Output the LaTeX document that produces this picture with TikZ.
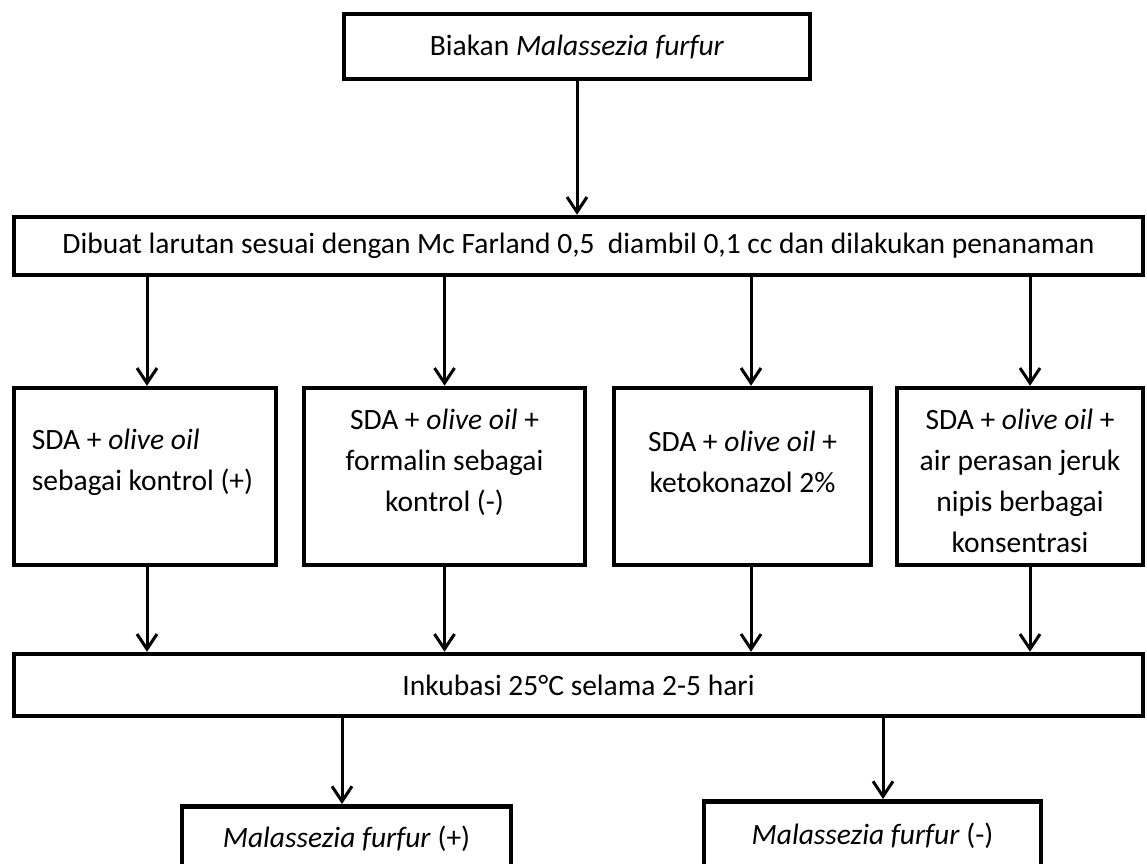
\documentclass[tikz,border=0pt]{standalone}
\usepackage{fontspec}
\setmainfont{Carlito}
\usetikzlibrary{arrows.meta}

\tikzset{
  box/.style={draw, line width=4.5pt, inner sep=0pt},
  txt/.style={font=\fontsize{29.5}{41}\selectfont, inner sep=0pt},
  flow/.style={->, line width=3pt},
  >={Straight Barb[length=15pt,width=20pt]}
}

\begin{document}
\begin{tikzpicture}[x=1pt,y=-1pt]
\clip (0,0) rectangle (1147,863);
\fill[white] (0,0) rectangle (1147,863);

% Steps
\node[box, txt, minimum width=466, minimum height=65] (biakan) at (577,46.5) {Biakan \textit{Malassezia furfur}};
\node[box, txt, minimum width=1129, minimum height=58] (larutan) at (578.5,246) {Dibuat larutan sesuai dengan Mc Farland 0,5 \ diambil 0,1 cc dan dilakukan penanaman};

% Media
\node[box, minimum width=262, minimum height=177] (kpos) at (145,476.5) {};
\node[box, minimum width=281, minimum height=177] (kneg) at (444.5,476.5) {};
\node[box, minimum width=257, minimum height=177] (keto) at (742.5,476.5) {};
\node[box, minimum width=246, minimum height=177] (jeruk) at (1020,476.5) {};

\node[txt, align=left, anchor=west] (kpostxt) at ([xshift=20,yshift=14.5]kpos.west) {SDA + \textit{olive oil}\\sebagai kontrol (+)};
\node[txt, align=center] (knegtxt) at ([yshift=14.5]kneg.center) {SDA + \textit{olive oil} +\\formalin sebagai\\kontrol (-)};
\node[txt, align=center] (ketotxt) at ([yshift=14.5]keto.center) {SDA + \textit{olive oil} +\\ketokonazol 2\%};
\node[txt, align=center] (jeruktxt) at ([yshift=-4.5]jeruk.center) {SDA + \textit{olive oil} +\\air perasan jeruk\\nipis berbagai\\konsentrasi};

\node[box, txt, minimum width=1129, minimum height=62] (inkubasi) at (578.5,685) {Inkubasi 25°C selama 2-5 hari};

% Results
\node[box, txt, minimum width=329, minimum height=64, anchor=north] (hasilpos) at (346.5,804) {\textit{Malassezia furfur} (+)};
\node[box, txt, minimum width=337, minimum height=68, anchor=north] (hasilneg) at (872.5,799) {\textit{Malassezia furfur} (-)};

% Arrows
\draw[flow] (biakan.south) -- (biakan.south |- larutan.north);
\draw[flow] ([xshift=2]kpos.north |- larutan.south) -- ([xshift=2]kpos.north);
\draw[flow] (kneg.north |- larutan.south) -- (kneg.north);
\draw[flow] ([xshift=8.5]keto.north |- larutan.south) -- ([xshift=8.5]keto.north);
\draw[flow] ([xshift=10]jeruk.north |- larutan.south) -- ([xshift=10]jeruk.north);
\draw[flow] ([xshift=2]kpos.south) -- ([xshift=2]kpos.south |- inkubasi.north);
\draw[flow] (kneg.south) -- (kneg.south |- inkubasi.north);
\draw[flow] ([xshift=8.5]keto.south) -- ([xshift=8.5]keto.south |- inkubasi.north);
\draw[flow] ([xshift=10]jeruk.south) -- ([xshift=10]jeruk.south |- inkubasi.north);
\draw[flow] ([xshift=-4.5]hasilpos.north |- inkubasi.south) -- ([xshift=-4.5]hasilpos.north);
\draw[flow] ([xshift=10.5]hasilneg.north |- inkubasi.south) -- ([xshift=10.5]hasilneg.north);
\end{tikzpicture}
\end{document}
